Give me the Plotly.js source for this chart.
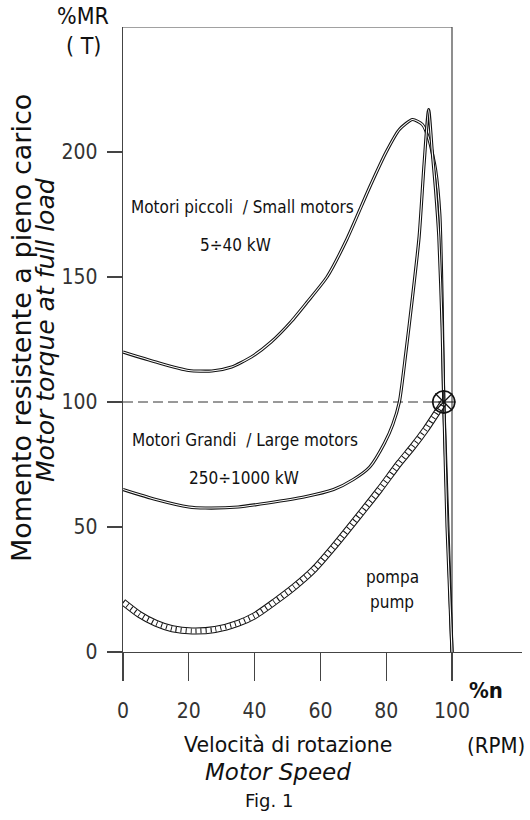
<!DOCTYPE html>
<html>
<head>
<meta charset="utf-8">
<script src="https://cdn.plot.ly/plotly-3.0.1.min.js"></script>
<style>html,body{margin:0;padding:0;background:#fff}</style>
</head>
<body>
<div id="chart" style="width:530px;height:820px"></div>
<script>
// ---- data ----
var smallX = [0, 10, 20, 27, 33, 39, 45, 51, 56, 62, 68, 75, 80, 84, 88, 91, 93, 95, 96.3, 97, 97.5, 100];
var smallY = [120, 116, 112.6, 112.4, 114, 118, 124, 132, 140, 150, 165, 186, 200, 209, 213, 211, 205, 193, 175, 140, 100, 0];

var largeX = [0, 10, 20, 25, 35, 44, 55, 64, 70, 75, 79.5, 82, 84, 86, 88, 90, 91.5, 92.9, 94, 95, 96, 97, 97.5, 98.5, 100];
var largeY = [65, 61, 58, 57.6, 58, 59.6, 62, 65, 69, 74, 83.6, 91, 100, 120, 142, 166, 195, 217, 200, 185, 166, 130, 100, 50, 0];

var pumpX = [0, 5, 10, 15, 21, 28, 35, 40, 46, 52, 58, 64, 72, 78, 84, 88, 92, 97.5];
var pumpY = [20, 15, 11.5, 9.3, 8.4, 9, 11.5, 14.5, 20, 26, 33, 42, 55, 65, 75.6, 82, 89, 100];

var yTicks = [0, 50, 100, 150, 200];
var xTicks = [0, 20, 40, 60, 80, 100];
var nominalX = [97.5];
var nominalY = [100];

// ---- geometry helpers (pixel -> paper) ----
var W = 530, H = 820, L = 123, R = 8, T = 27, B = 168;
function PX(px) { return (px - L) / (W - L - R); }
function PY(py) { return (H - B - py) / (H - T - B); }

var narrow = "Liberation Sans Narrow, DejaVu Sans Condensed, Arial Narrow, sans-serif";
var wide = "DejaVu Sans, Verdana, sans-serif";

function dbl(x, y, outer, inner) {
  return [
    {x: x, y: y, mode: 'lines', line: {color: '#111', width: outer, shape: 'spline', smoothing: 0.6}, hoverinfo: 'skip', showlegend: false},
    {x: x, y: y, mode: 'lines', line: {color: '#fff', width: inner, shape: 'spline', smoothing: 0.6}, hoverinfo: 'skip', showlegend: false}
  ];
}

var traces = [];
traces = traces.concat(dbl(smallX, smallY, 3.2, 1.1));
traces = traces.concat(dbl(largeX, largeY, 3.2, 1.1));
traces = traces.concat(dbl(pumpX, pumpY, 7, 5));
traces.push({x: pumpX, y: pumpY, mode: 'lines', line: {color: '#111', width: 5, dash: '1px,4px', shape: 'spline', smoothing: 0.6}, hoverinfo: 'skip', showlegend: false});
traces.push({x: nominalX, y: nominalY, mode: 'markers', marker: {symbol: 'circle-open', size: 22, color: '#111', line: {width: 1.6, color: '#111'}}, hoverinfo: 'skip', showlegend: false});
traces.push({x: nominalX, y: nominalY, mode: 'markers', marker: {symbol: 'asterisk-open', size: 20, color: '#111', line: {width: 1.2, color: '#111'}}, hoverinfo: 'skip', showlegend: false});

function ann(text, px, py, size, opts) {
  var a = {text: text, xref: 'paper', yref: 'paper', x: PX(px), y: PY(py), showarrow: false,
           xanchor: 'center', yanchor: 'middle', font: {family: narrow, size: size, color: '#111'}};
  if (opts) for (var k in opts) { if (k === 'font') { for (var f in opts.font) a.font[f] = opts.font[f]; } else a[k] = opts[k]; }
  return a;
}

var annotations = [
  ann('%MR', 83, 16, 23),
  ann('( T)', 83, 46, 23),
  ann('Momento resistente a pieno carico', 21, 328, 27, {textangle: -90, font: {family: wide}}),
  ann('<i>Motor torque at full load</i>', 45, 330, 25, {textangle: -90, font: {family: wide}}),
  ann('Motori piccoli  / Small motors', 242, 207, 17),
  ann('5÷40 kW', 235, 245, 17),
  ann('Motori Grandi  / Large motors', 245, 440, 17),
  ann('250÷1000 kW', 244, 478, 17),
  ann('pompa', 392, 577, 17),
  ann('pump', 392, 602, 17),
  ann('<b>%n</b>', 486, 690, 22),
  ann('(RPM)', 496, 745, 22),
  ann('Velocità di rotazione', 288, 745, 20.5, {font: {family: wide}}),
  ann('<i>Motor Speed</i>', 278, 772, 23, {font: {family: wide}}),
  ann('Fig. 1', 269, 800, 18, {font: {family: wide}})
];

var layout = {
  width: W, height: H,
  margin: {l: L, r: R, t: T, b: B, pad: 0},
  paper_bgcolor: '#fff', plot_bgcolor: '#fff',
  showlegend: false,
  xaxis: {range: [0, (W - L - R) / 3.29], showgrid: false, zeroline: false, showline: true,
          linecolor: '#444', linewidth: 1.2, ticks: 'outside', ticklen: 28, tickcolor: '#444', tickwidth: 1.2,
          tickvals: xTicks, ticktext: xTicks.map(String), ticklabelstandoff: 12,
          tickfont: {family: narrow, size: 21, color: '#333'}, fixedrange: true},
  yaxis: {range: [0, 250], showgrid: false, zeroline: false, showline: true,
          linecolor: '#444', linewidth: 1.2, ticks: 'outside', ticklen: 15, tickcolor: '#444', tickwidth: 1.2,
          tickvals: yTicks, ticktext: yTicks.map(String), ticklabelstandoff: 5,
          tickfont: {family: narrow, size: 21, color: '#333'}, fixedrange: true},
  shapes: [
    {type: 'line', xref: 'x', yref: 'y', x0: 0, x1: 100, y0: 250, y1: 250, line: {color: '#444', width: 1.2}, layer: 'below'},
    {type: 'line', xref: 'x', yref: 'y', x0: 100, x1: 100, y0: 250, y1: 0, line: {color: '#444', width: 1.2}, layer: 'below'},
    {type: 'line', xref: 'x', yref: 'y', x0: 0, x1: 97.5, y0: 100, y1: 100, line: {color: '#333', width: 1, dash: '10px,5px'}, layer: 'below'}
  ],
  annotations: annotations
};

Plotly.newPlot('chart', traces, layout, {staticPlot: true, displayModeBar: false});
</script>
</body>
</html>
